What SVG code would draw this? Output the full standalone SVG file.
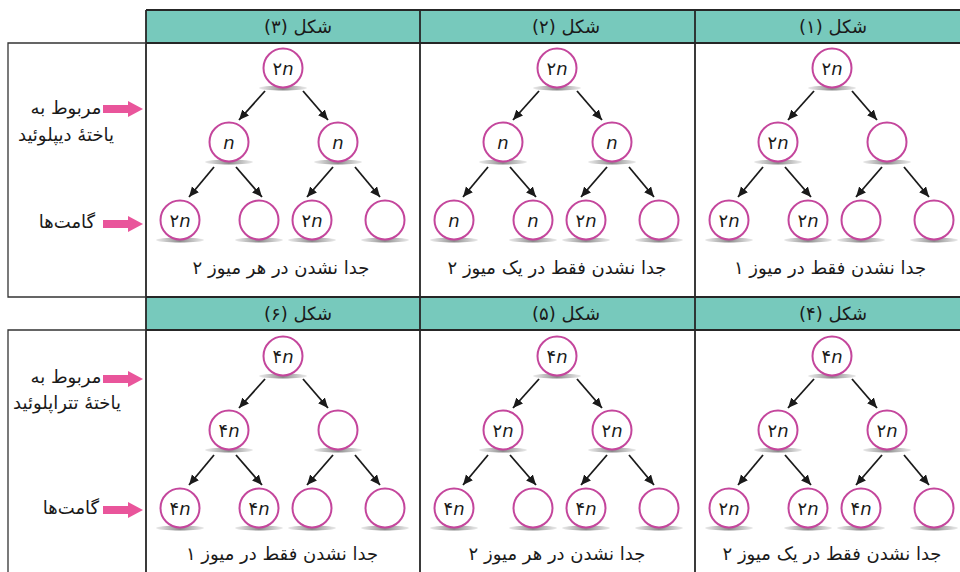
<svg xmlns="http://www.w3.org/2000/svg" width="960" height="572" viewBox="0 0 960 572">
<defs>
<marker id="ah" markerUnits="userSpaceOnUse" markerWidth="11" markerHeight="10" refX="10" refY="4.5" orient="auto">
<path d="M0,0 L10,4.5 L0,9 Z" fill="#1a1a1a"/>
</marker>
<linearGradient id="sh" x1="0" x2="1" y1="0" y2="0">
<stop offset="0" stop-color="#9a9a9a" stop-opacity="0.2"/>
<stop offset="0.5" stop-color="#8a8a8a" stop-opacity="1"/>
<stop offset="1" stop-color="#9a9a9a" stop-opacity="0.2"/>
</linearGradient>
<g id="pk"><path d="M0,-4 L25,-4 L25,-8 L40,0 L25,8 L25,4 L0,4 Z" fill="#e9559b"/></g>
</defs>
<style>
.hd{fill:#77c9bc}
.ln{stroke:#262626;stroke-width:1.8;fill:none}
.lb{stroke:#333;stroke-width:1.3;fill:none}
.fa{font-family:"DejaVu Sans",sans-serif;fill:#1a1a1a}
.h{font-size:18px}
.cap{font-size:18px}
.side{font-size:18px}
.c{fill:#fff;stroke:#c4469c;stroke-width:2}
.s{fill:url(#sh)}
.t{font-family:"DejaVu Sans",sans-serif;font-size:18px;fill:#1a1a1a;text-anchor:middle}
.i{font-style:italic}
.ar{stroke:#1a1a1a;stroke-width:1.8;marker-end:url(#ah)}
</style>
<rect width="960" height="572" fill="#fff"/>
<g id="table">
<rect class="hd" x="146" y="10" width="814" height="33"/>
<rect class="hd" x="146" y="297" width="814" height="33"/>
<path class="ln" d="M146,10 H960 M146,43 H960 M146,297 H960 M146,330 H960 M146,10 V572 M420,10 V572 M695,10 V572"/>
<path class="lb" d="M146,43 H8 V297 H146 M146,330 H8 V572"/>
</g>
<g id="headers" class="fa h" text-anchor="middle" direction="rtl">
<text x="298" y="33">شکل (۳)</text>
<text x="566" y="33">شکل (۲)</text>
<text x="833" y="33">شکل (۱)</text>
<text x="298" y="320">شکل (۶)</text>
<text x="566" y="320">شکل (۵)</text>
<text x="833" y="320">شکل (۴)</text>
</g>
<g id="captions" class="fa cap" text-anchor="middle" direction="rtl">
<text x="281" y="274">جدا نشدن در هر میوز ۲</text>
<text x="557" y="274">جدا نشدن فقط در یک میوز ۲</text>
<text x="830" y="274">جدا نشدن فقط در میوز ۱</text>
<text x="282" y="560">جدا نشدن فقط در میوز ۱</text>
<text x="557" y="560">جدا نشدن در هر میوز ۲</text>
<text x="832" y="560">جدا نشدن فقط در یک میوز ۲</text>
</g>
<g id="side-labels" class="fa side" text-anchor="middle" direction="rtl">
<text x="66" y="114">مربوط به</text>
<text x="66" y="141">یاختهٔ دیپلوئید</text>
<text x="67" y="228">گامت‌ها</text>
<text x="66" y="383">مربوط به</text>
<text x="67" y="409">یاختهٔ تتراپلوئید</text>
<text x="71" y="514">گامت‌ها</text>
</g>
<g id="pink-arrows">
<use href="#pk" x="103" y="109"/>
<use href="#pk" x="103" y="224"/>
<use href="#pk" x="103" y="379"/>
<use href="#pk" x="103" y="510"/>
</g>
<g id="connectors">
<line class="ar" x1="265" y1="91" x2="239" y2="120"/><line class="ar" x1="303" y1="91" x2="328" y2="120"/>
<line class="ar" x1="214" y1="167" x2="189" y2="197"/><line class="ar" x1="236" y1="167" x2="262" y2="197"/>
<line class="ar" x1="333" y1="167" x2="307" y2="197"/><line class="ar" x1="355" y1="167" x2="380" y2="197"/>
<line class="ar" x1="539" y1="91" x2="513" y2="120"/><line class="ar" x1="577" y1="91" x2="602" y2="120"/>
<line class="ar" x1="488" y1="167" x2="463" y2="197"/><line class="ar" x1="510" y1="167" x2="536" y2="197"/>
<line class="ar" x1="607" y1="167" x2="581" y2="197"/><line class="ar" x1="629" y1="167" x2="654" y2="197"/>
<line class="ar" x1="814" y1="91" x2="788" y2="120"/><line class="ar" x1="852" y1="91" x2="877" y2="120"/>
<line class="ar" x1="763" y1="167" x2="738" y2="197"/><line class="ar" x1="785" y1="167" x2="811" y2="197"/>
<line class="ar" x1="882" y1="167" x2="856" y2="197"/><line class="ar" x1="904" y1="167" x2="929" y2="197"/>
<line class="ar" x1="265" y1="379" x2="239" y2="408"/><line class="ar" x1="303" y1="379" x2="328" y2="408"/>
<line class="ar" x1="214" y1="455" x2="189" y2="485"/><line class="ar" x1="236" y1="455" x2="262" y2="485"/>
<line class="ar" x1="333" y1="455" x2="307" y2="485"/><line class="ar" x1="355" y1="455" x2="380" y2="485"/>
<line class="ar" x1="539" y1="379" x2="513" y2="408"/><line class="ar" x1="577" y1="379" x2="602" y2="408"/>
<line class="ar" x1="488" y1="455" x2="463" y2="485"/><line class="ar" x1="510" y1="455" x2="536" y2="485"/>
<line class="ar" x1="607" y1="455" x2="581" y2="485"/><line class="ar" x1="629" y1="455" x2="654" y2="485"/>
<line class="ar" x1="814" y1="379" x2="788" y2="408"/><line class="ar" x1="852" y1="379" x2="877" y2="408"/>
<line class="ar" x1="763" y1="455" x2="738" y2="485"/><line class="ar" x1="785" y1="455" x2="811" y2="485"/>
<line class="ar" x1="882" y1="455" x2="856" y2="485"/><line class="ar" x1="904" y1="455" x2="929" y2="485"/>
</g>
<g id="fig3">
<g id="f3-top"><ellipse class="s" cx="283" cy="88" rx="24" ry="2.5"/><circle class="c" cx="283" cy="68" r="19.5"/><text class="t" x="283" y="74.5">۲<tspan class="i">n</tspan></text></g>
<g id="f3-l1"><ellipse class="s" cx="229" cy="162" rx="24" ry="2.5"/><circle class="c" cx="229" cy="142" r="19.5"/><text class="t i" x="229" y="148.5">n</text></g>
<g id="f3-l2"><ellipse class="s" cx="338" cy="162" rx="24" ry="2.5"/><circle class="c" cx="338" cy="142" r="19.5"/><text class="t i" x="338" y="148.5">n</text></g>
<g id="f3-g1"><ellipse class="s" cx="180" cy="240" rx="24" ry="2.5"/><circle class="c" cx="180" cy="220" r="19.5"/><text class="t" x="180" y="226.5">۲<tspan class="i">n</tspan></text></g>
<g id="f3-g2"><ellipse class="s" cx="259" cy="240" rx="24" ry="2.5"/><circle class="c" cx="259" cy="220" r="19.5"/></g>
<g id="f3-g3"><ellipse class="s" cx="312" cy="240" rx="24" ry="2.5"/><circle class="c" cx="312" cy="220" r="19.5"/><text class="t" x="312" y="226.5">۲<tspan class="i">n</tspan></text></g>
<g id="f3-g4"><ellipse class="s" cx="385" cy="240" rx="24" ry="2.5"/><circle class="c" cx="385" cy="220" r="19.5"/></g>
</g>
<g id="fig2">
<g id="f2-top"><ellipse class="s" cx="557" cy="88" rx="24" ry="2.5"/><circle class="c" cx="557" cy="68" r="19.5"/><text class="t" x="557" y="74.5">۲<tspan class="i">n</tspan></text></g>
<g id="f2-l1"><ellipse class="s" cx="503" cy="162" rx="24" ry="2.5"/><circle class="c" cx="503" cy="142" r="19.5"/><text class="t i" x="503" y="148.5">n</text></g>
<g id="f2-l2"><ellipse class="s" cx="612" cy="162" rx="24" ry="2.5"/><circle class="c" cx="612" cy="142" r="19.5"/><text class="t i" x="612" y="148.5">n</text></g>
<g id="f2-g1"><ellipse class="s" cx="454" cy="240" rx="24" ry="2.5"/><circle class="c" cx="454" cy="220" r="19.5"/><text class="t i" x="454" y="226.5">n</text></g>
<g id="f2-g2"><ellipse class="s" cx="533" cy="240" rx="24" ry="2.5"/><circle class="c" cx="533" cy="220" r="19.5"/><text class="t i" x="533" y="226.5">n</text></g>
<g id="f2-g3"><ellipse class="s" cx="586" cy="240" rx="24" ry="2.5"/><circle class="c" cx="586" cy="220" r="19.5"/><text class="t" x="586" y="226.5">۲<tspan class="i">n</tspan></text></g>
<g id="f2-g4"><ellipse class="s" cx="659" cy="240" rx="24" ry="2.5"/><circle class="c" cx="659" cy="220" r="19.5"/></g>
</g>
<g id="fig1">
<g id="f1-top"><ellipse class="s" cx="832" cy="88" rx="24" ry="2.5"/><circle class="c" cx="832" cy="68" r="19.5"/><text class="t" x="832" y="74.5">۲<tspan class="i">n</tspan></text></g>
<g id="f1-l1"><ellipse class="s" cx="778" cy="162" rx="24" ry="2.5"/><circle class="c" cx="778" cy="142" r="19.5"/><text class="t" x="778" y="148.5">۲<tspan class="i">n</tspan></text></g>
<g id="f1-l2"><ellipse class="s" cx="887" cy="162" rx="24" ry="2.5"/><circle class="c" cx="887" cy="142" r="19.5"/></g>
<g id="f1-g1"><ellipse class="s" cx="729" cy="240" rx="24" ry="2.5"/><circle class="c" cx="729" cy="220" r="19.5"/><text class="t" x="729" y="226.5">۲<tspan class="i">n</tspan></text></g>
<g id="f1-g2"><ellipse class="s" cx="808" cy="240" rx="24" ry="2.5"/><circle class="c" cx="808" cy="220" r="19.5"/><text class="t" x="808" y="226.5">۲<tspan class="i">n</tspan></text></g>
<g id="f1-g3"><ellipse class="s" cx="861" cy="240" rx="24" ry="2.5"/><circle class="c" cx="861" cy="220" r="19.5"/></g>
<g id="f1-g4"><ellipse class="s" cx="934" cy="240" rx="24" ry="2.5"/><circle class="c" cx="934" cy="220" r="19.5"/></g>
</g>
<g id="fig6">
<g id="f6-top"><ellipse class="s" cx="283" cy="376" rx="24" ry="2.5"/><circle class="c" cx="283" cy="356" r="19.5"/><text class="t" x="283" y="362.5">۴<tspan class="i">n</tspan></text></g>
<g id="f6-l1"><ellipse class="s" cx="229" cy="450" rx="24" ry="2.5"/><circle class="c" cx="229" cy="430" r="19.5"/><text class="t" x="229" y="436.5">۴<tspan class="i">n</tspan></text></g>
<g id="f6-l2"><ellipse class="s" cx="338" cy="450" rx="24" ry="2.5"/><circle class="c" cx="338" cy="430" r="19.5"/></g>
<g id="f6-g1"><ellipse class="s" cx="180" cy="528" rx="24" ry="2.5"/><circle class="c" cx="180" cy="508" r="19.5"/><text class="t" x="180" y="514.5">۴<tspan class="i">n</tspan></text></g>
<g id="f6-g2"><ellipse class="s" cx="259" cy="528" rx="24" ry="2.5"/><circle class="c" cx="259" cy="508" r="19.5"/><text class="t" x="259" y="514.5">۴<tspan class="i">n</tspan></text></g>
<g id="f6-g3"><ellipse class="s" cx="312" cy="528" rx="24" ry="2.5"/><circle class="c" cx="312" cy="508" r="19.5"/></g>
<g id="f6-g4"><ellipse class="s" cx="385" cy="528" rx="24" ry="2.5"/><circle class="c" cx="385" cy="508" r="19.5"/></g>
</g>
<g id="fig5">
<g id="f5-top"><ellipse class="s" cx="557" cy="376" rx="24" ry="2.5"/><circle class="c" cx="557" cy="356" r="19.5"/><text class="t" x="557" y="362.5">۴<tspan class="i">n</tspan></text></g>
<g id="f5-l1"><ellipse class="s" cx="503" cy="450" rx="24" ry="2.5"/><circle class="c" cx="503" cy="430" r="19.5"/><text class="t" x="503" y="436.5">۲<tspan class="i">n</tspan></text></g>
<g id="f5-l2"><ellipse class="s" cx="612" cy="450" rx="24" ry="2.5"/><circle class="c" cx="612" cy="430" r="19.5"/><text class="t" x="612" y="436.5">۲<tspan class="i">n</tspan></text></g>
<g id="f5-g1"><ellipse class="s" cx="454" cy="528" rx="24" ry="2.5"/><circle class="c" cx="454" cy="508" r="19.5"/><text class="t" x="454" y="514.5">۴<tspan class="i">n</tspan></text></g>
<g id="f5-g2"><ellipse class="s" cx="533" cy="528" rx="24" ry="2.5"/><circle class="c" cx="533" cy="508" r="19.5"/></g>
<g id="f5-g3"><ellipse class="s" cx="586" cy="528" rx="24" ry="2.5"/><circle class="c" cx="586" cy="508" r="19.5"/><text class="t" x="586" y="514.5">۴<tspan class="i">n</tspan></text></g>
<g id="f5-g4"><ellipse class="s" cx="659" cy="528" rx="24" ry="2.5"/><circle class="c" cx="659" cy="508" r="19.5"/></g>
</g>
<g id="fig4">
<g id="f4-top"><ellipse class="s" cx="832" cy="376" rx="24" ry="2.5"/><circle class="c" cx="832" cy="356" r="19.5"/><text class="t" x="832" y="362.5">۴<tspan class="i">n</tspan></text></g>
<g id="f4-l1"><ellipse class="s" cx="778" cy="450" rx="24" ry="2.5"/><circle class="c" cx="778" cy="430" r="19.5"/><text class="t" x="778" y="436.5">۲<tspan class="i">n</tspan></text></g>
<g id="f4-l2"><ellipse class="s" cx="887" cy="450" rx="24" ry="2.5"/><circle class="c" cx="887" cy="430" r="19.5"/><text class="t" x="887" y="436.5">۲<tspan class="i">n</tspan></text></g>
<g id="f4-g1"><ellipse class="s" cx="729" cy="528" rx="24" ry="2.5"/><circle class="c" cx="729" cy="508" r="19.5"/><text class="t" x="729" y="514.5">۲<tspan class="i">n</tspan></text></g>
<g id="f4-g2"><ellipse class="s" cx="808" cy="528" rx="24" ry="2.5"/><circle class="c" cx="808" cy="508" r="19.5"/><text class="t" x="808" y="514.5">۲<tspan class="i">n</tspan></text></g>
<g id="f4-g3"><ellipse class="s" cx="861" cy="528" rx="24" ry="2.5"/><circle class="c" cx="861" cy="508" r="19.5"/><text class="t" x="861" y="514.5">۴<tspan class="i">n</tspan></text></g>
<g id="f4-g4"><ellipse class="s" cx="934" cy="528" rx="24" ry="2.5"/><circle class="c" cx="934" cy="508" r="19.5"/></g>
</g>
</svg>
